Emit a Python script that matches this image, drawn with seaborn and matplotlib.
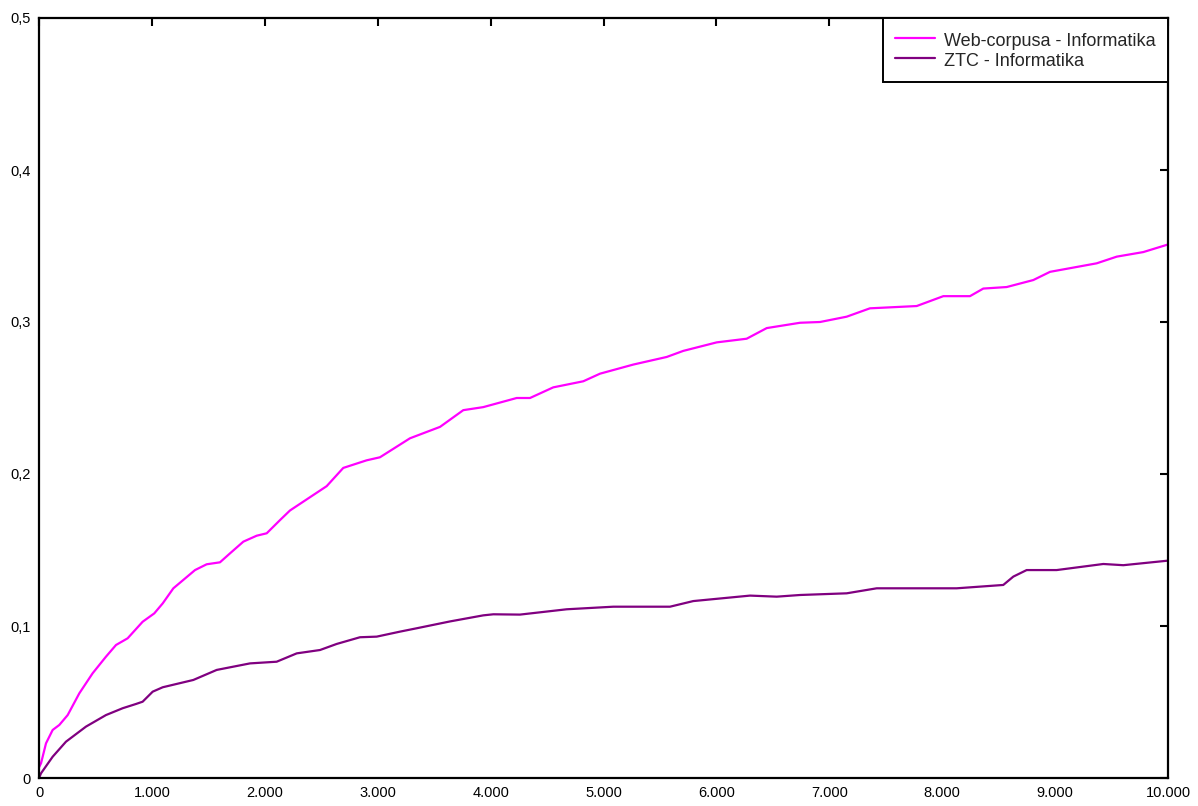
import numpy as np
import pandas as pd
import seaborn as sns
import matplotlib
matplotlib.use("Agg")
import matplotlib.pyplot as plt
from matplotlib.ticker import FuncFormatter, MultipleLocator

# Web-corpusa - Informatika
web_x = [0, 18, 62, 121, 180, 254, 357, 475, 593, 682, 785, 918, 1021, 1096,
         1190, 1382, 1485, 1603, 1692, 1810, 1928, 2017, 2135, 2223, 2548, 2695,
         2902, 3020, 3286, 3552, 3758, 3935, 4231, 4349, 4555, 4821, 4969, 5264,
         5560, 5707, 6003, 6268, 6446, 6741, 6918, 7154, 7360, 7774, 8010, 8246,
         8364, 8571, 8807, 8955, 9250, 9368, 9546, 9781, 10000]
web_y = [0.007, 0.0097, 0.0228, 0.0316, 0.0349, 0.0414, 0.0557, 0.0689, 0.0798,
         0.0875, 0.0919, 0.1028, 0.1083, 0.1149, 0.1248, 0.1368, 0.1406, 0.1419,
         0.1478, 0.1555, 0.1594, 0.161, 0.1697, 0.176, 0.192, 0.204, 0.209, 0.211,
         0.2235, 0.231, 0.242, 0.244, 0.250, 0.250, 0.257, 0.261, 0.266, 0.272,
         0.277, 0.281, 0.2866, 0.289, 0.296, 0.2995, 0.300, 0.3035, 0.309, 0.3105,
         0.317, 0.317, 0.322, 0.323, 0.3276, 0.333, 0.337, 0.3386, 0.343, 0.346,
         0.351]

# ZTC - Informatika
ztc_x = [0, 18, 121, 239, 416, 593, 741, 859, 918, 1007, 1096, 1367, 1574, 1869,
         2105, 2283, 2489, 2637, 2843, 2991, 3198, 3345, 3640, 3935, 4024, 4260,
         4674, 5087, 5589, 5795, 6298, 6534, 6741, 7154, 7242, 7420, 8128, 8541,
         8630, 8748, 9014, 9427, 9604, 10000]
ztc_y = [0.0, 0.0031, 0.014, 0.0239, 0.0338, 0.0414, 0.0459, 0.0487, 0.0502,
         0.0568, 0.0597, 0.0645, 0.0711, 0.0754, 0.0765, 0.082, 0.0842, 0.0882,
         0.0926, 0.093, 0.0963, 0.0985, 0.103, 0.107, 0.1077, 0.1075, 0.111,
         0.1127, 0.1127, 0.1164, 0.120, 0.1193, 0.1204, 0.1215, 0.1226, 0.1248,
         0.1248, 0.127, 0.1325, 0.1368, 0.1368, 0.1408, 0.140, 0.143]

series_names = ["Web-corpusa - Informatika", "ZTC - Informatika"]
series_colors = ["#FF00FF", "#800080"]

df = pd.concat([
    pd.DataFrame({"x": web_x, "y": web_y, "serija": series_names[0]}),
    pd.DataFrame({"x": ztc_x, "y": ztc_y, "serija": series_names[1]}),
], ignore_index=True)

sns.set_style("white")
plt.rcParams["font.family"] = ["Liberation Sans", "DejaVu Sans"]

fig = plt.figure(figsize=(11.98, 8.06), dpi=100)
ax = fig.add_axes([39 / 1198, 1 - 778 / 806, (1168 - 39) / 1198, (778 - 18) / 806])

sns.lineplot(data=df, x="x", y="y", hue="serija", palette=series_colors,
             hue_order=series_names, linewidth=1.6, ax=ax, estimator=None,
             sort=True, solid_joinstyle="round")

ax.set_xlim(0, 10000)
ax.set_ylim(0, 0.5)
ax.xaxis.set_major_locator(MultipleLocator(1000))
ax.yaxis.set_major_locator(MultipleLocator(0.1))
ax.xaxis.set_major_formatter(FuncFormatter(lambda v, p: f"{int(round(v)):,}".replace(",", ".")))
ax.yaxis.set_major_formatter(FuncFormatter(lambda v, p: ("0" if abs(v) < 1e-9 else f"{v:.1f}".replace(".", ","))))
ax.set_xlabel("")
ax.set_ylabel("")

for s in ax.spines.values():
    s.set_visible(True)
    s.set_color("black")
    s.set_linewidth(1.6)

ax.tick_params(axis="both", which="major", direction="in", length=6, width=1.5,
               top=True, right=True, labelsize=10.5, colors="black", pad=6)

leg = ax.legend(loc="upper right", bbox_to_anchor=(1.0, 1.0), borderaxespad=0,
                fontsize=13, frameon=True, fancybox=False, handlelength=2.2,
                handleheight=1.2, handletextpad=0.5, labelspacing=0.05,
                borderpad=0.68, title=None)
leg.get_frame().set_edgecolor("black")
leg.get_frame().set_linewidth(1.4)
leg.get_frame().set_alpha(1)
for line in leg.get_lines():
    line.set_linewidth(1.6)

fig.savefig("out.png", dpi=100, facecolor="white")
